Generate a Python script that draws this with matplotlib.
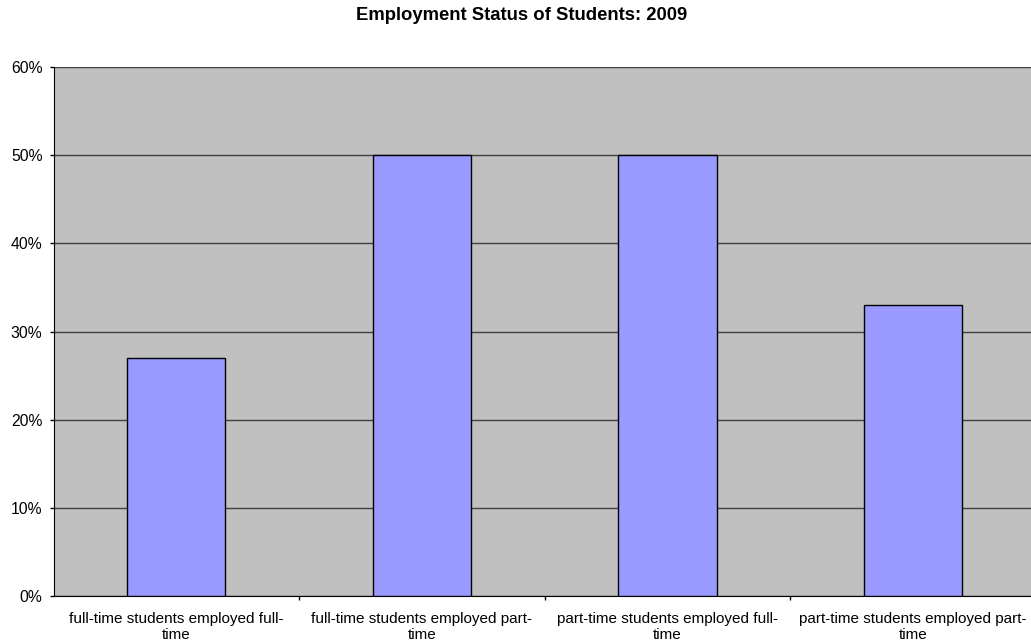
import matplotlib
matplotlib.use('Agg')
from matplotlib import pyplot as plt
from matplotlib.ticker import FixedLocator, PercentFormatter

categories = ['full-time students employed full-\ntime',
              'full-time students employed part-\ntime',
              'part-time students employed full-\ntime',
              'part-time students employed part-\ntime']
values = [27, 50, 50, 33]
y_ticks = [0, 10, 20, 30, 40, 50, 60]

plt.rcParams['font.family'] = ['Liberation Sans', 'DejaVu Sans']

fig = plt.figure(figsize=(10.31, 6.42), dpi=100)
# plot area runs slightly past the right edge of the picture
ax = fig.add_axes([53.5 / 1031, 46 / 642, 982.5 / 1031, 529 / 642])
ax.set_facecolor('#c0c0c0')

x = range(len(values))
ax.bar(x, values, width=0.4, color='#9999ff', edgecolor='black', linewidth=1, zorder=3)

ax.set_xlim(-0.5, len(values) - 0.5)
ax.set_ylim(0, 60)
ax.set_yticks(y_ticks)
ax.yaxis.set_major_formatter(PercentFormatter(decimals=0))
ax.grid(axis='y', color='#404040', linewidth=1, zorder=1)

# category labels in the middle, tick marks on the boundaries
ax.set_xticks(list(x))
ax.set_xticklabels(categories, fontsize=11)
ax.tick_params(axis='x', which='major', length=0, pad=11.5)
ax.xaxis.set_minor_locator(FixedLocator([i + 0.5 for i in x]))
ax.tick_params(axis='x', which='minor', direction='out', length=3, width=1)
ax.tick_params(axis='y', direction='out', length=3, width=1, labelsize=11.3, pad=5)

for side in ['top', 'right']:
    ax.spines[side].set_visible(False)
ax.spines['left'].set_color('black')
ax.spines['bottom'].set_color('black')

fig.text(522 / 1031, 1 - 15 / 642, 'Employment Status of Students: 2009', ha='center', va='center',
         fontsize=13.3, fontweight='bold')

plt.savefig('out.png', dpi=100)
